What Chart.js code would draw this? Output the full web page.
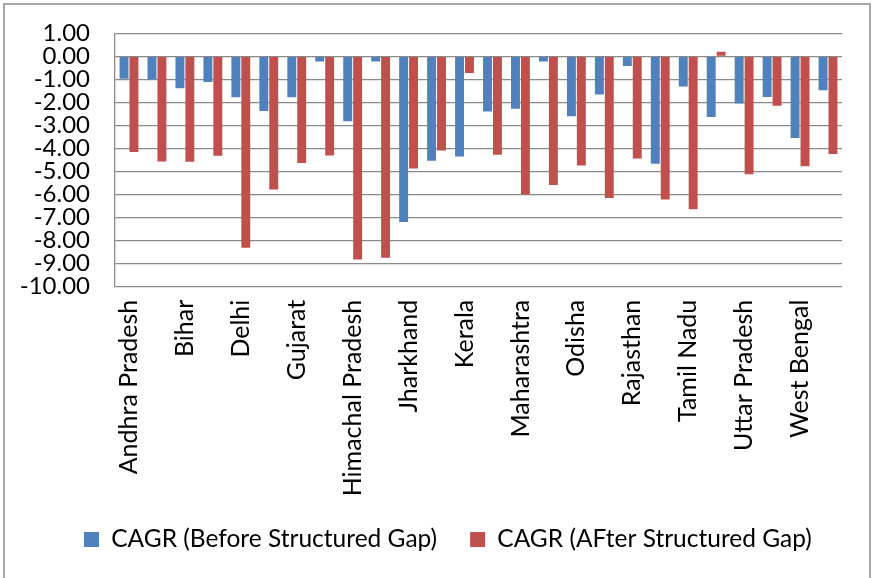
<!DOCTYPE html>
<html>
<head>
<meta charset="utf-8">
<script src="https://cdn.jsdelivr.net/npm/chart.js@4"></script>
<style>
  html, body { margin: 0; padding: 0; background: #fff; }
  #wrap { width: 872px; height: 578px; }
</style>
</head>
<body>
<div id="wrap"><canvas id="chart" width="872" height="578"></canvas></div>
<script>
// States, in the order they appear along the category axis
const states = [
  'Andhra Pradesh', 'Assam', 'Bihar', 'Chhattisgarh', 'Delhi', 'Goa',
  'Gujarat', 'Haryana', 'Himachal Pradesh', 'Jammu & Kashmir', 'Jharkhand',
  'Karnataka', 'Kerala', 'Madhya Pradesh', 'Maharashtra', 'Meghalaya',
  'Odisha', 'Punjab', 'Rajasthan', 'Sikkim', 'Tamil Nadu', 'Telangana',
  'Uttar Pradesh', 'Uttarakhand', 'West Bengal', 'All India'
];

// CAGR (%) before the structural gap
const cagrBefore = [
  -0.97, -1.01, -1.39, -1.11, -1.78, -2.37, -1.78, -0.22, -2.82, -0.22,
  -7.19, -4.53, -4.35, -2.39, -2.27, -0.22, -2.60, -1.66, -0.42, -4.66,
  -1.31, -2.63, -2.05, -1.76, -3.54, -1.47
];

// CAGR (%) after the structural gap
const cagrAfter = [
  -4.15, -4.56, -4.58, -4.32, -8.31, -5.78, -4.63, -4.30, -8.82, -8.74,
  -4.87, -4.09, -0.72, -4.27, -6.00, -5.58, -4.74, -6.15, -4.44, -6.22,
  -6.64, 0.20, -5.12, -2.15, -4.77, -4.24
];

const seriesNames = ['CAGR (Before Structured Gap)', 'CAGR (AFter Structured Gap)'];

// Value axis range and step
const yMin = -10;
const yMax = 1;
const yStep = 1;

const FONT = 'Lato, "Open Sans", sans-serif';
const GRID = '#8a8a8a';
const LEGEND_PAD = 33;

// White background and the outer frame around the whole chart
const framePlugin = {
  id: 'frame',
  beforeDraw(chart) {
    const ctx = chart.ctx;
    ctx.save();
    ctx.fillStyle = '#ffffff';
    ctx.fillRect(0, 0, chart.width, chart.height);
    ctx.strokeStyle = GRID;
    ctx.lineWidth = 1.5;
    ctx.strokeRect(4, 4, 866, 640);
    ctx.restore();
  }
};

// Start the legend row a little in from the left edge
const legendOffset = {
  id: 'legendOffset',
  afterLayout(chart) {
    if (chart.legend) {
      chart.legend.left = 84 - LEGEND_PAD;
    }
  }
};

new Chart(document.getElementById('chart'), {
  type: 'bar',
  data: {
    labels: states,
    datasets: [
      {
        label: seriesNames[0],
        data: cagrBefore,
        backgroundColor: '#4F81BD',
        borderWidth: 0
      },
      {
        label: seriesNames[1],
        data: cagrAfter,
        backgroundColor: '#C0504D',
        borderWidth: 0
      }
    ]
  },
  options: {
    responsive: false,
    animation: false,
    events: [],
    categoryPercentage: 0.71,
    barPercentage: 0.9,
    layout: {
      padding: { top: 33.3, left: 0, right: 0, bottom: 16.25 }
    },
    scales: {
      x: {
        grid: { display: false },
        border: { display: false },
        ticks: {
          autoSkip: false,
          minRotation: 90,
          maxRotation: 90,
          padding: 5,
          color: '#000',
          font: { family: FONT, size: 25 },
          // every second state name is written under the axis
          callback(value, index) {
            return index % 2 === 0 ? this.getLabelForValue(value) : '';
          }
        },
        afterFit(scale) { scale.height = 207.55; }
      },
      y: {
        min: yMin,
        max: yMax,
        grid: {
          color: GRID,
          lineWidth: 1.3,
          drawTicks: true,
          tickLength: 25,
          tickColor: 'rgba(0,0,0,0)'
        },
        border: { display: true, color: GRID, width: 1.3 },
        ticks: {
          autoSkip: false,
          stepSize: yStep,
          padding: 0,
          color: '#000',
          font: { family: FONT, size: 24 },
          callback: (v) => v.toFixed(2)
        },
        afterFit(scale) { scale.width = 115; }
      },
      yRight: {
        type: 'linear',
        position: 'right',
        display: true,
        grid: { display: false },
        border: { display: false },
        ticks: { display: false },
        afterFit(scale) { scale.width = 30; }
      }
    },
    plugins: {
      tooltip: { enabled: false },
      legend: {
        position: 'bottom',
        align: 'start',
        labels: {
          boxWidth: 15,
          boxHeight: 15,
          padding: LEGEND_PAD,
          color: '#000',
          font: { family: FONT, size: 24.5 }
        }
      }
    }
  },
  plugins: [framePlugin, legendOffset]
});
</script>
</body>
</html>
